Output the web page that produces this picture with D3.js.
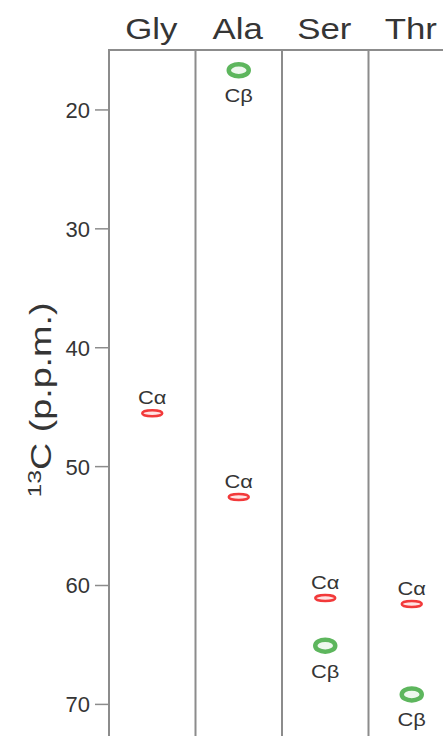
<!DOCTYPE html>
<html lang="en">
<head>
<meta charset="UTF-8">
<title>13C shifts</title>
<script src="https://cdnjs.cloudflare.com/ajax/libs/d3/7.8.5/d3.min.js"></script>
<style>
  body { margin: 0; padding: 0; background: #fff; }
  svg { display: block; }
  text { font-family: "Liberation Sans", Arial, sans-serif; fill: #353535; }
</style>
</head>
<body>
<svg id="chart" width="443" height="736"></svg>
<script>
  // residue columns
  const residues = ["Gly", "Ala", "Ser", "Thr"];
  // peaks
  const peakResidue = ["Gly", "Ala", "Ala", "Ser", "Ser", "Thr", "Thr"];
  const peakAtom    = ["Cα",  "Cβ",  "Cα",  "Cα",  "Cβ",  "Cα",  "Cβ"];
  const peakShift   = [45.55, 16.7,  52.6,  61.1,  65.1,  61.6,  69.2];
  const yTicks = [20, 30, 40, 50, 60, 70];

  const svg = d3.select("#chart");
  const plotTop = 50, plotBottom = 736, axisX = 109;
  const lineColor = "#8c8c8c";

  const y = d3.scaleLinear().domain([15, 72.7]).range([plotTop, plotBottom]);
  const x = d3.scaleBand().domain(residues).range([axisX, 455]);

  // y axis ticks
  const yAxis = svg.append("g")
    .attr("transform", `translate(${axisX},0)`)
    .call(d3.axisLeft(y).tickValues(yTicks).tickSize(14).tickPadding(5));
  yAxis.select(".domain").remove();
  yAxis.selectAll(".tick line").attr("stroke", lineColor).attr("stroke-width", 1.5);
  yAxis.selectAll(".tick text")
    .attr("font-size", 22)
    .attr("font-family", "Liberation Sans, Arial, sans-serif")
    .attr("fill", "#353535")
    .attr("dy", "0.36em");

  // column frame
  svg.append("line")
    .attr("x1", axisX).attr("x2", 443)
    .attr("y1", plotTop).attr("y2", plotTop)
    .attr("stroke", lineColor).attr("stroke-width", 2);
  residues.forEach(r => {
    svg.append("line")
      .attr("x1", x(r)).attr("x2", x(r))
      .attr("y1", plotTop - 1).attr("y2", plotBottom)
      .attr("stroke", lineColor).attr("stroke-width", 2);
  });

  // column labels
  residues.forEach(r => {
    svg.append("text")
      .attr("transform", `translate(${x(r) + x.bandwidth() / 2 - 1},39) scale(1.2,1)`)
      .attr("text-anchor", "middle")
      .attr("font-size", 29)
      .text(r);
  });

  // y axis title
  const title = svg.append("text")
    .attr("transform", "translate(51,400) rotate(-90) scale(1.3,1)")
    .attr("text-anchor", "middle")
    .attr("font-size", 29);
  title.append("tspan").attr("font-size", 19).attr("dy", -10).text("13");
  title.append("tspan").attr("dy", 10).text("C (p.p.m.)");

  // peaks
  peakShift.forEach((v, i) => {
    const cx = x(peakResidue[i]) + x.bandwidth() / 2;
    const cy = y(v);
    const isAlpha = peakAtom[i] === "Cα";
    svg.append("ellipse")
      .attr("cx", cx).attr("cy", cy)
      .attr("rx", isAlpha ? 10 : 10)
      .attr("ry", isAlpha ? 3 : 6)
      .attr("fill", isAlpha ? "#ffe3e3" : "#eef8ee")
      .attr("stroke", isAlpha ? "#f2393a" : "#5db65d")
      .attr("stroke-width", isAlpha ? 2.5 : 4.5);
    svg.append("text")
      .attr("transform", `translate(${cx},${isAlpha ? cy - 9 : cy + 32}) scale(1.15,1)`)
      .attr("text-anchor", "middle")
      .attr("font-size", 19)
      .text(peakAtom[i]);
  });
</script>
</body>
</html>
